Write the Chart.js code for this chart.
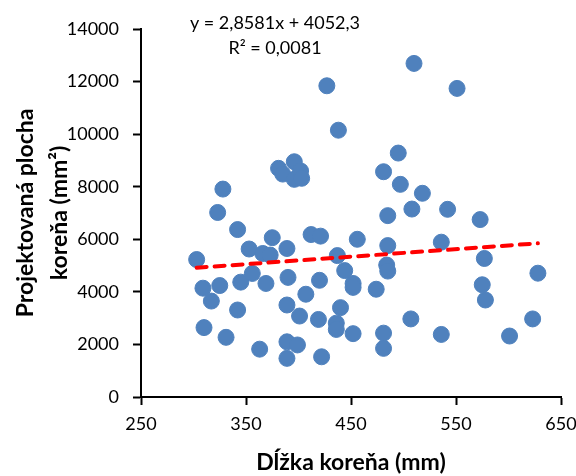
<!DOCTYPE html>
<html>
<head>
<meta charset="utf-8">
<script src="https://cdn.jsdelivr.net/npm/chart.js@4"></script>
<style>
  body { margin: 0; background: #fff; }
  canvas { display: block; }
</style>
</head>
<body>
<canvas id="chart" width="576" height="476"></canvas>
<script>
// dĺžka koreňa (mm)
const rootLength = [
  303, 309, 310, 317, 323, 325, 328, 331, 342, 342, 345, 353, 356, 363, 366, 373, 369, 375,
  381, 385, 396, 396, 402, 403, 389, 389, 389, 389, 390, 399, 401, 407, 412, 420, 419, 421,
  422, 427, 438, 437, 440, 436, 436, 444, 452, 452, 452, 456, 474, 481, 481, 481, 485, 485,
  484, 485, 495, 497, 507, 508, 510, 518, 536, 536, 542, 551, 573, 577, 575, 578, 601, 623, 628
];
// projektovaná plocha (mm2)
const rootArea = [
  5230, 4140, 2640, 3650, 7020, 4240, 7910, 2270, 6370, 3310, 4370, 5630, 4700, 1820, 5460, 5400, 4320, 6060,
  8700, 8480, 8950, 8280, 8600, 8320, 3500, 2100, 1470, 5650, 4550, 1980, 3080, 3910, 6180, 4440, 2950, 6120,
  1530, 11840, 10150, 5380, 3400, 2810, 2570, 4810, 4320, 4170, 2410, 6000, 4100, 8570, 2430, 1850, 6900, 5760,
  5020, 4790, 9280, 8090, 2970, 7150, 12690, 7750, 5890, 2380, 7140, 11740, 6750, 5270, 4270, 3690, 2320, 2970, 4710
];

const xTicks = [250, 350, 450, 550, 650];
const yTicks = [0, 2000, 4000, 6000, 8000, 10000, 12000, 14000];

// lineárny trend z Excelu
const slope = 2.8581;
const intercept = 4052.3;
const equationLines = ['y = 2,8581x + 4052,3', 'R² = 0,0081'];

const points = rootLength.map((x, i) => ({ x: x, y: rootArea[i] }));
const xMin = Math.min(...rootLength);
const xMax = Math.max(...rootLength);
const trend = [
  { x: xMin, y: slope * xMin + intercept },
  { x: xMax, y: slope * xMax + intercept }
];

const equationLabel = {
  id: 'equationLabel',
  afterDraw(chart) {
    const ctx = chart.ctx;
    const area = chart.chartArea;
    ctx.save();
    ctx.fillStyle = '#000';
    ctx.font = '18px Lato';
    ctx.textAlign = 'center';
    ctx.textBaseline = 'middle';
    const cx = area.left + 134;
    ctx.fillText(equationLines[0], cx, area.top - 6);
    ctx.fillText(equationLines[1], cx, area.top + 19);
    ctx.restore();
  }
};

const axisCommon = {
  border: { color: '#000', width: 2 },
  grid: { drawOnChartArea: false, drawTicks: true, tickLength: 8, tickWidth: 2, tickColor: '#000' }
};

new Chart(document.getElementById('chart'), {
  type: 'scatter',
  data: {
    datasets: [
      {
        type: 'line',
        data: trend,
        borderColor: '#FF0000',
        borderWidth: 4,
        borderDash: [10, 8],
        borderCapStyle: 'round',
        pointRadius: 0,
        fill: false,
        order: 0
      },
      {
        data: points,
        backgroundColor: '#4F81BD',
        borderColor: '#4F81BD',
        borderWidth: 1,
        pointRadius: 8,
        pointHoverRadius: 8,
        order: 1
      }
    ]
  },
  options: {
    responsive: false,
    animation: false,
    devicePixelRatio: 1,
    layout: { padding: { top: 29, right: 2, bottom: 0, left: 0 } },
    plugins: {
      legend: { display: false },
      tooltip: { enabled: false }
    },
    scales: {
      x: {
        ...axisCommon,
        type: 'linear',
        min: xTicks[0],
        max: xTicks[xTicks.length - 1],
        afterBuildTicks: (s) => { s.ticks = xTicks.map(v => ({ value: v })); },
        afterFit: (s) => {
          s.height = 79;
          s.paddingLeft = 0;
          s.paddingRight = 15;
        },
        ticks: {
          color: '#000',
          font: { family: 'Lato', size: 18 },
          padding: 8,
          maxRotation: 0,
          callback: (v) => String(v)
        },
        title: {
          display: true,
          text: 'Dĺžka koreňa (mm)',
          color: '#000',
          font: { family: 'Lato', size: 23, weight: 'bold' },
          padding: { top: 0, bottom: 0 }
        }
      },
      y: {
        ...axisCommon,
        type: 'linear',
        min: yTicks[0],
        max: yTicks[yTicks.length - 1],
        afterBuildTicks: (s) => { s.ticks = yTicks.map(v => ({ value: v })); },
        afterFit: (s) => { s.width = 141; },
        ticks: {
          color: '#000',
          font: { family: 'Lato', size: 18 },
          padding: 14,
          callback: (v) => String(v)
        },
        title: {
          display: true,
          text: ['Projektovaná plocha', 'koreňa (mm²)'],
          color: '#000',
          font: { family: 'Lato', size: 23, weight: 'bold', lineHeight: '34px' },
          padding: { top: 9, bottom: 0 }
        }
      }
    }
  },
  plugins: [equationLabel]
});
</script>
</body>
</html>
